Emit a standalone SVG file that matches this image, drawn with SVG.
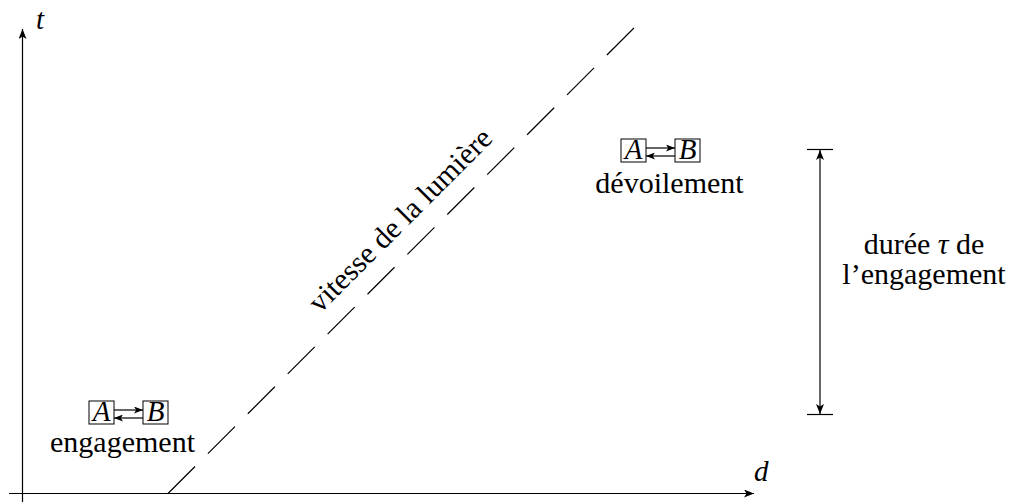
<svg xmlns="http://www.w3.org/2000/svg" width="1013" height="502" viewBox="0 0 1013 502">
<style>
.ln{stroke:#000;stroke-width:1.2;fill:none}
.bx{stroke:#000;stroke-width:1;fill:#fff}
.tx{font-family:'Liberation Serif','DejaVu Serif',serif;font-size:30px;fill:#000}
.it{font-family:'Liberation Serif','DejaVu Serif',serif;font-style:italic;font-size:29px;fill:#000}
</style>
<defs>
<marker id="ah" viewBox="0 0 10 8" refX="10" refY="4" markerWidth="10" markerHeight="8" orient="auto-start-reverse" markerUnits="userSpaceOnUse">
<path d="M0,0 L10,4 L0,8 L2.5,4 z" fill="#000"/>
</marker>
<marker id="sh" viewBox="0 0 9 7" refX="9" refY="3.5" markerWidth="9" markerHeight="7" orient="auto" markerUnits="userSpaceOnUse">
<path d="M0,0 L9,3.5 L0,7 L2.2,3.5 z" fill="#000"/>
</marker>
</defs>
<g id="axes">
<line class="ln" x1="22.5" y1="502" x2="22.5" y2="29" marker-end="url(#ah)"/>
<line class="ln" x1="9" y1="493.5" x2="754" y2="493.5" marker-end="url(#ah)"/>
<text class="it" x="36" y="29">t</text>
<text class="it" x="754" y="481">d</text>
</g>
<g id="light">
<line class="ln" x1="168" y1="493.5" x2="634" y2="28" stroke-dasharray="38.2 18.2"/>
<text class="tx" font-size="31" text-anchor="middle" transform="translate(407,227) rotate(-45)">vitesse de la lumière</text>
</g>
<g id="engagement">
<rect class="bx" x="89" y="401" width="25" height="23"/>
<rect class="bx" x="143" y="401" width="25" height="23"/>
<text class="it" x="101.5" y="420.5" text-anchor="middle">A</text>
<text class="it" x="155.5" y="420.5" text-anchor="middle">B</text>
<g id="connectors-bottom">
<line class="ln" x1="114" y1="410" x2="143" y2="410" marker-end="url(#sh)"/>
<line class="ln" x1="143" y1="418" x2="114" y2="418" marker-end="url(#sh)"/>
</g>
<text class="tx" x="122.5" y="452" text-anchor="middle">engagement</text>
</g>
<g id="devoilement">
<rect class="bx" x="621" y="139" width="25" height="23"/>
<rect class="bx" x="675" y="139" width="25" height="23"/>
<text class="it" x="633.5" y="158.5" text-anchor="middle">A</text>
<text class="it" x="687.5" y="158.5" text-anchor="middle">B</text>
<g id="connectors-top">
<line class="ln" x1="646" y1="148" x2="675" y2="148" marker-end="url(#sh)"/>
<line class="ln" x1="675" y1="156" x2="646" y2="156" marker-end="url(#sh)"/>
</g>
<text class="tx" x="669.5" y="193" text-anchor="middle">dévoilement</text>
</g>
<g id="duree">
<line class="ln" x1="807" y1="149.5" x2="833" y2="149.5"/>
<line class="ln" x1="807" y1="414.5" x2="833" y2="414.5"/>
<line class="ln" x1="820" y1="150" x2="820" y2="414" marker-start="url(#ah)" marker-end="url(#ah)"/>
<text class="tx" x="924" y="254" text-anchor="middle">durée <tspan font-style="italic">τ</tspan> de</text>
<text class="tx" x="924" y="284" text-anchor="middle">l’engagement</text>
</g>
</svg>
